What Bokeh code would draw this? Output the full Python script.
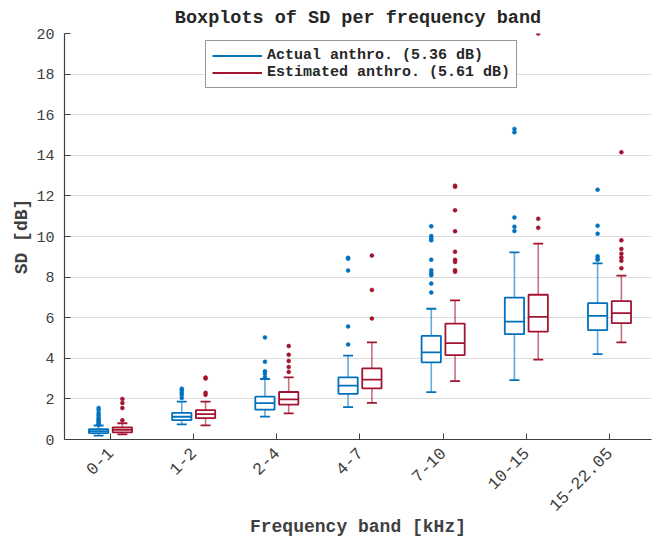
import math
from bokeh.plotting import figure
from bokeh.models import FixedTicker, Range1d, Legend, LegendItem
from bokeh.embed import file_html
from bokeh.resources import INLINE

# ---------------- data ----------------
bands = ["0-1", "1-2", "2-4", "4-7", "7-10", "10-15", "15-22.05"]

act_q1 = [0.31, 0.95, 1.47, 2.25, 3.80, 5.19, 5.39]
act_med = [0.41, 1.12, 1.79, 2.65, 4.29, 5.81, 6.09]
act_q3 = [0.51, 1.31, 2.11, 3.06, 5.10, 6.99, 6.72]
act_wlo = [0.19, 0.75, 1.13, 1.59, 2.33, 2.92, 4.21]
act_whi = [0.69, 1.87, 2.98, 4.13, 6.44, 9.22, 8.68]
act_out = [
    [0.72, 0.78, 0.85, 0.92, 1.0, 1.08, 1.2, 1.3, 1.45, 1.55],
    [2.05, 2.2, 2.3, 2.42, 2.5],
    [3.06, 3.23, 3.36, 3.83, 5.03],
    [4.68, 5.57, 8.32, 8.91, 8.95],
    [7.24, 7.68, 8.09, 8.19, 8.34, 8.86, 9.81, 9.91, 10.02, 10.5],
    [10.27, 10.48, 10.94, 15.13, 15.3],
    [8.85, 8.9, 9.03, 10.14, 10.53, 12.3],
]

est_q1 = [0.35, 1.05, 1.72, 2.52, 4.16, 5.31, 5.73]
est_med = [0.48, 1.25, 1.98, 2.95, 4.75, 6.04, 6.23]
est_q3 = [0.60, 1.45, 2.34, 3.50, 5.71, 7.13, 6.82]
est_wlo = [0.25, 0.70, 1.29, 1.80, 2.88, 3.93, 4.78]
est_whi = [0.80, 1.87, 3.06, 4.78, 6.85, 9.65, 8.07]
est_out = [
    [0.95, 1.55, 1.8, 2.0],
    [2.2, 2.3, 3.0, 3.05],
    [3.33, 3.57, 3.87, 4.18, 4.6],
    [5.96, 7.37, 9.06],
    [8.26, 8.34, 8.75, 8.85, 9.25, 10.26, 11.29, 12.45, 12.5],
    [10.43, 10.87, 20.0],
    [8.44, 8.8, 8.96, 9.15, 9.39, 9.81, 14.15],
]

labels = ["Actual anthro. (5.36 dB)", "Estimated anthro. (5.61 dB)"]
y_ticks = list(range(0, 21, 2))

BLUE = "#0072BD"
RED = "#A2142F"
FONT = "Liberation Mono"
AXC = "#404040"

X0, X1 = 0.447, 7.505

# ---------------- figure ----------------
p = figure(width=652, height=540,
           x_range=Range1d(X0, X1), y_range=Range1d(0, 20),
           output_backend="svg", toolbar_location=None,
           min_border_left=64, min_border_right=1,
           min_border_top=32, min_border_bottom=101,
           title="Boxplots of SD per frequency band")

p.title.text_font = FONT
p.title.text_font_size = "18.5px"
p.title.text_font_style = "bold"
p.title.align = "center"
p.title.text_color = "#262626"

p.outline_line_color = None
p.background_fill_color = "white"
p.xgrid.grid_line_color = None
p.ygrid.grid_line_color = "#dedede"
p.ygrid.grid_line_width = 1

xpos = [i + 1 for i in range(len(bands))]
p.xaxis.ticker = FixedTicker(ticks=xpos)
p.xaxis.major_label_overrides = {x: b for x, b in zip(xpos, bands)}
p.xaxis.major_label_orientation = math.pi / 4
p.yaxis.ticker = FixedTicker(ticks=y_ticks)

for ax in (p.xaxis, p.yaxis):
    ax.axis_line_color = AXC
    ax.axis_line_width = 1.2
    ax.major_tick_line_color = AXC
    ax.major_tick_in = 6
    ax.major_tick_out = 0
    ax.minor_tick_line_color = None
    ax.major_label_text_font = FONT
    ax.major_label_text_font_size = "15px"
    ax.major_label_text_color = AXC
    ax.axis_label_text_font = FONT
    ax.axis_label_text_font_size = "18px"
    ax.axis_label_text_font_style = "bold"
    ax.axis_label_text_color = AXC

p.xaxis.major_label_text_font_size = "17px"
p.yaxis.major_label_standoff = 10
p.xaxis.major_label_standoff = 11
p.xaxis.axis_label = "Frequency band [kHz]"
p.yaxis.axis_label = "SD [dB]"
p.xaxis.axis_label_standoff = -2
p.yaxis.axis_label_standoff = 1

BW = 0.232
CW = 0.12
OFF = 0.143


def draw(shift, q1, med, q3, wlo, whi, outs, color):
    xs = [x + shift for x in xpos]
    # whiskers
    p.segment(x0=xs, y0=q3, x1=xs, y1=whi, line_color=color, line_width=1.6, line_alpha=0.6)
    p.segment(x0=xs, y0=wlo, x1=xs, y1=q1, line_color=color, line_width=1.6, line_alpha=0.6)
    # caps
    p.segment(x0=[x - CW / 2 for x in xs], y0=whi, x1=[x + CW / 2 for x in xs], y1=whi,
              line_color=color, line_width=1.8)
    p.segment(x0=[x - CW / 2 for x in xs], y0=wlo, x1=[x + CW / 2 for x in xs], y1=wlo,
              line_color=color, line_width=1.8)
    # box
    p.vbar(x=xs, width=BW, bottom=q1, top=q3, fill_color="white",
           line_color=color, line_width=1.8)
    # median
    p.segment(x0=[x - BW / 2 for x in xs], y0=med, x1=[x + BW / 2 for x in xs], y1=med,
              line_color=color, line_width=1.8)
    # outliers
    ox, oy = [], []
    for x, vals in zip(xs, outs):
        for v in vals:
            ox.append(x)
            oy.append(v)
    p.scatter(ox, oy, size=4, fill_color=color, line_color=color, line_width=0.5)


draw(-OFF, act_q1, act_med, act_q3, act_wlo, act_whi, act_out, BLUE)
draw(OFF, est_q1, est_med, est_q3, est_wlo, est_whi, est_out, RED)

# legend (proxy line renderers placed outside the visible range)
r1 = p.line([-10, -9], [-10, -10], line_color=BLUE, line_width=1.8)
r2 = p.line([-10, -9], [-10, -10], line_color=RED, line_width=1.8)
legend = Legend(items=[LegendItem(label=labels[0], renderers=[r1]),
                       LegendItem(label=labels[1], renderers=[r2])],
                location=(141, 351))
legend.border_line_color = "#303030"
legend.border_line_width = 1
legend.background_fill_color = "white"
legend.background_fill_alpha = 1
legend.glyph_width = 50
legend.glyph_height = 15
legend.label_height = 15
legend.label_standoff = 5
legend.spacing = 0
legend.padding = 6
legend.margin = 0
legend.label_text_font = FONT
legend.label_text_font_size = "15px"
legend.label_text_font_style = "bold"
legend.label_text_color = "#262626"
p.add_layout(legend)

open("out.html", "w").write(file_html(p, INLINE))
